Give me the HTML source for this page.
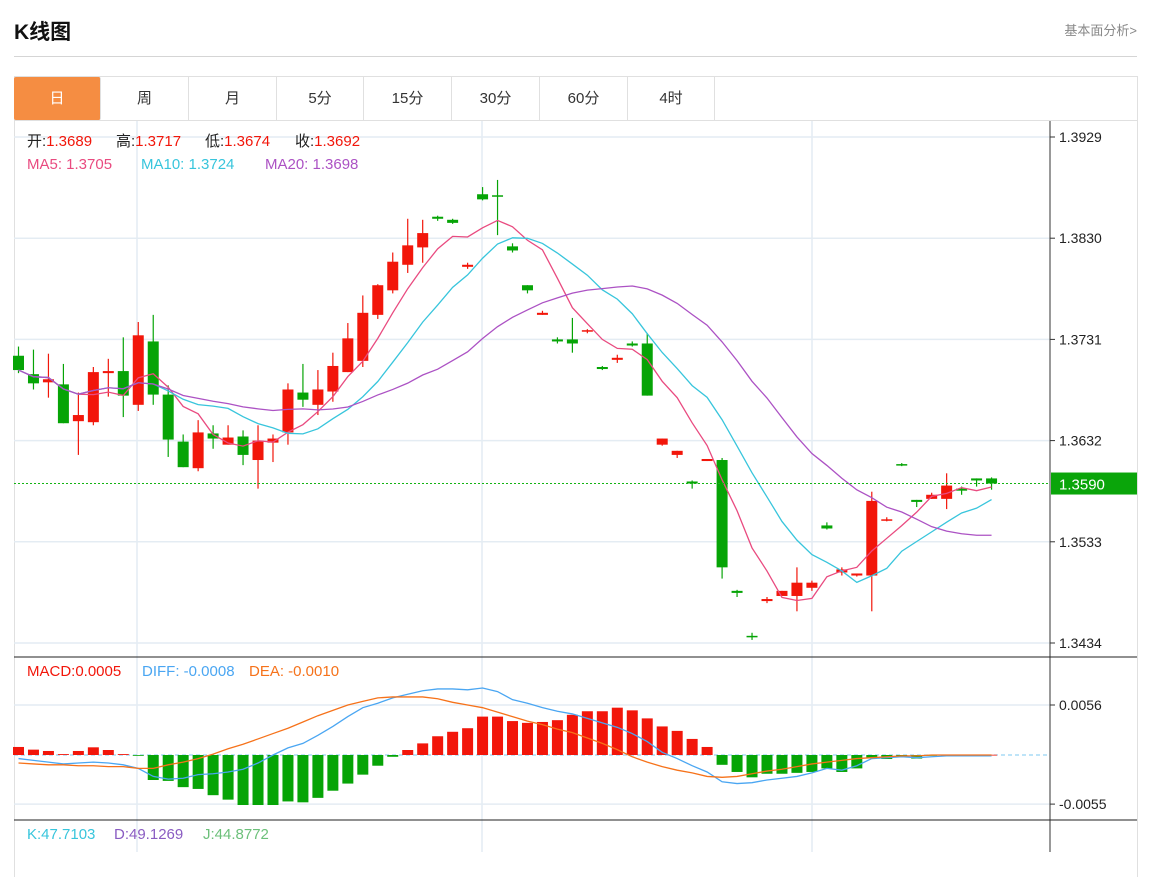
<!DOCTYPE html>
<html><head><meta charset="utf-8">
<style>
body{margin:0;background:#fff;width:1151px;height:852px;overflow:hidden;font-family:"Liberation Sans","Noto Sans CJK SC",sans-serif;position:relative}
.title{position:absolute;left:14px;top:16px;font-size:21px;font-weight:bold;color:#111}
.more{position:absolute;right:14px;top:20px;font-size:13px;color:#888}
.hr{position:absolute;left:14px;top:56px;width:1123px;height:1px;background:#d5d5d5}
.box{position:absolute;left:14px;top:76px;width:1122px;height:800px;border:1px solid #e0e0e0;border-bottom:none}
.tabs{position:absolute;left:14px;top:77px;height:43px;width:1123px;border-bottom:1px solid #e0e0e0}
.tab{position:absolute;top:0;height:43px;line-height:43px;text-align:center;font-size:15px;color:#333;border-right:1px solid #e0e0e0;box-sizing:border-box}
.tab.on{background:#f58d42;color:#fff;border-radius:2px}
svg{position:absolute;left:0;top:0}
</style></head><body>
<div class="title">K线图</div>
<div class="more">基本面分析&gt;</div>
<div class="hr"></div>
<div class="box"></div>
<div class="tabs">
<div class="tab on" style="left:0;width:87px">日</div>
<div class="tab" style="left:87px;width:88px">周</div>
<div class="tab" style="left:175px;width:88px">月</div>
<div class="tab" style="left:263px;width:87px">5分</div>
<div class="tab" style="left:350px;width:88px">15分</div>
<div class="tab" style="left:438px;width:88px">30分</div>
<div class="tab" style="left:526px;width:88px">60分</div>
<div class="tab" style="left:614px;width:87px">4时</div>
</div>
<svg id="chart" width="1151" height="852"></svg>
<script>
const opens=[1.3715,1.3697,1.3689,1.3687,1.3651,1.3650,1.3698,1.3700,1.3667,1.3729,1.3677,1.3631,1.3605,1.3639,1.3628,1.3636,1.3613,1.3630,1.3640,1.3679,1.3667,1.3680,1.3699,1.3710,1.3755,1.3779,1.3804,1.3821,1.3851,1.3848,1.3802,1.3873,1.3872,1.3822,1.3784,1.3755,1.3731,1.3731,1.3739,1.3704,1.3711,1.3727,1.3727,1.3628,1.3618,1.3592,1.3612,1.3613,1.3485,1.3441,1.3475,1.3480,1.3480,1.3488,1.3549,1.3503,1.3500,1.3500,1.3554,1.3609,1.3574,1.3575,1.3575,1.3585,1.3595,1.3595];
const highs=[1.3724,1.3721,1.3717,1.3707,1.3679,1.3704,1.3712,1.3733,1.3748,1.3755,1.3686,1.3638,1.3652,1.3647,1.3647,1.3642,1.3647,1.3638,1.3688,1.3707,1.3701,1.3718,1.3747,1.3774,1.3785,1.3816,1.3849,1.3848,1.3852,1.3849,1.3806,1.3880,1.3887,1.3825,1.3784,1.3759,1.3733,1.3752,1.3741,1.3705,1.3716,1.3729,1.3737,1.3634,1.3622,1.3593,1.3614,1.3615,1.3486,1.3444,1.3479,1.3485,1.3508,1.3495,1.3552,1.3508,1.3502,1.3582,1.3557,1.3610,1.3574,1.3581,1.3600,1.3587,1.3595,1.3596];
const lows=[1.3698,1.3682,1.3674,1.3649,1.3618,1.3647,1.3675,1.3655,1.3661,1.3667,1.3616,1.3606,1.3602,1.3624,1.3628,1.3608,1.3585,1.3611,1.3628,1.3665,1.3657,1.3670,1.3699,1.3704,1.3751,1.3776,1.3796,1.3806,1.3847,1.3844,1.3800,1.3867,1.3833,1.3816,1.3776,1.3755,1.3727,1.3718,1.3737,1.3701,1.3708,1.3724,1.3676,1.3627,1.3615,1.3585,1.3612,1.3497,1.3479,1.3437,1.3473,1.3480,1.3465,1.3485,1.3545,1.3500,1.3499,1.3465,1.3553,1.3607,1.3567,1.3575,1.3565,1.3579,1.3587,1.3584];
const closes=[1.3701,1.3688,1.3692,1.3649,1.3657,1.3699,1.3700,1.3676,1.3735,1.3677,1.3633,1.3606,1.3640,1.3634,1.3635,1.3618,1.3632,1.3634,1.3682,1.3672,1.3682,1.3705,1.3732,1.3757,1.3784,1.3807,1.3823,1.3835,1.3849,1.3845,1.3804,1.3868,1.3871,1.3818,1.3779,1.3757,1.3729,1.3727,1.3740,1.3702,1.3713,1.3725,1.3676,1.3634,1.3622,1.3590,1.3614,1.3508,1.3483,1.3440,1.3477,1.3485,1.3493,1.3493,1.3546,1.3506,1.3502,1.3573,1.3555,1.3608,1.3572,1.3579,1.3588,1.3583,1.3593,1.3590];
// MACD values in units of 0.0001
const macdHist=[9,6,4.5,1,4.5,8.6,5.6,1,-0.8,-28,-29,-36,-38,-45,-50,-56,-56,-56,-52,-53,-48,-40,-32,-22,-12,-2,5.6,13,21,26,30,43,43,38,36,37,39,45,49,49,53,50,41,32,27,18,9,-11,-19,-25,-21,-21,-20,-19,-15,-19,-15,-3.4,-4.5,-1.7,-4,-0.8,-0.3,0.3,-0.3,0.3];
const diffVals=[-4,-6,-8,-10,-9,-8,-9,-11,-15,-24,-27,-26,-22,-21,-19,-16,-9,0,8,13,22,32,43,53,58,64,68,72,74,74,73,75,71,62,58,53,49,46,41,36,31,24,15,3,-4,-12,-19,-30,-32,-31,-28,-26,-24,-20,-15,-17,-12,-4,-3,-2,-3,-2,-1,-1,-1,-1];
const deaVals=[-9,-10,-11,-11,-12,-12,-13,-13,-15,-15,-11,-8,-4,1,7,12,18,24,30,37,44,50,56,60,64,65,65,65,63,59,56,53,48,43,38,34,29,25,19,13,6,-2,-8,-13,-17,-20,-24,-25,-24,-21,-18,-16,-13,-10,-8,-6,-4,-3,-2,-1,-1,0,0,0,0,0];
const priceTicks=[1.3929,1.3830,1.3731,1.3632,1.3533,1.3434];
const macdTicks=[0.0056,-0.0055];
const lastPrice=1.3590;

const NS="http://www.w3.org/2000/svg";
const svg=document.getElementById('chart');
function mk(tag,attrs,parent){const e=document.createElementNS(NS,tag);for(const k in attrs)e.setAttribute(k,attrs[k]);(parent||svg).appendChild(e);return e;}
const X=i=>18.5+i*14.97;
const Y=v=>137+(1.3929-v)*10222;
const MY=v=>755-v*8929;
const RED="#f2160a",GRN="#06a406";

const grid=mk('g',{});


[137,482,812].forEach(x=>mk('line',{x1:x,x2:x,y1:121,y2:852,stroke:'#e4ecf3','stroke-width':1.5},grid));
priceTicks.forEach(t=>mk('line',{x1:14,x2:1050,y1:Y(t),y2:Y(t),stroke:'#e4ecf3','stroke-width':1.5},grid));
macdTicks.forEach(t=>mk('line',{x1:14,x2:1050,y1:MY(t),y2:MY(t),stroke:'#e4ecf3','stroke-width':1.5},grid));
mk('line',{x1:1050,x2:1050,y1:121,y2:852,stroke:'#333','stroke-width':1});
mk('line',{x1:14,x2:1137,y1:657,y2:657,stroke:'#222','stroke-width':1});
mk('line',{x1:14,x2:1137,y1:820,y2:820,stroke:'#222','stroke-width':1});
priceTicks.forEach(t=>{
  mk('line',{x1:1050,x2:1055,y1:Y(t),y2:Y(t),stroke:'#333'});
  const tx=mk('text',{x:1059,y:Y(t)+5,'font-size':14,fill:'#222'});tx.textContent=t.toFixed(4);
  
  
});
macdTicks.forEach(t=>{
  mk('line',{x1:1050,x2:1055,y1:MY(t),y2:MY(t),stroke:'#333'});
  const tx=mk('text',{x:1059,y:MY(t)+5,'font-size':14,fill:'#222'});tx.textContent=t.toFixed(4);
  
  
});

const cg=mk('g',{});


closes.forEach((c,i)=>{
  const o=opens[i],up=c>=o,col=up?RED:GRN,x=X(i);
  const g=mk('g',{},cg);
  
  
  mk('line',{x1:x,x2:x,y1:Y(highs[i]),y2:Y(lows[i]),stroke:col,'stroke-width':1.2},g);
  const top=Y(Math.max(o,c)),bot=Y(Math.min(o,c));
  mk('rect',{x:x-5.5,y:top,width:11,height:Math.max(1.5,bot-top),fill:col},g);
});
function ma(n){return closes.map((c,i)=>{const s=closes.slice(Math.max(0,i-n+1),i+1);return s.reduce((a,b)=>a+b,0)/s.length;});}
[[5,'#e94b80','ma5-line'],[10,'#38c5dc','ma10-line'],[20,'#ac52c4','ma20-line']].forEach(([n,col,name])=>{
  const p=mk('polyline',{points:ma(n).map((v,i)=>X(i)+','+Y(v)).join(' '),fill:'none',stroke:col,'stroke-width':1.3});
  
  
});
const lp=mk('line',{x1:14,x2:1050,y1:Y(lastPrice),y2:Y(lastPrice),stroke:'#13b413','stroke-dasharray':'2,2','stroke-width':1});


const lb=mk('rect',{x:1051,y:Y(lastPrice)-11,width:86,height:22,fill:'#0aa50a'});


const lt=mk('text',{x:1059,y:Y(lastPrice)+6,'font-size':15,fill:'#fff'});lt.textContent=lastPrice.toFixed(4);



const zl=mk('line',{x1:14,x2:1050,y1:755,y2:755,stroke:'#7cc8f0','stroke-dasharray':'4,3','stroke-width':1});


const hg=mk('g',{});


macdHist.forEach((h,i)=>{
  const v=h/10000,y0=MY(0),y1=MY(v);
  const r=mk('rect',{x:X(i)-5.5,y:Math.min(y0,y1),width:11,height:Math.max(0.8,Math.abs(y1-y0)),fill:h>=0?RED:GRN},hg);
  
  
});
[[diffVals,'#4aa6f2','diff-line'],[deaVals,'#f6721a','dea-line']].forEach(([arr,col,name])=>{
  const p=mk('polyline',{points:arr.map((v,i)=>X(i)+','+MY(v/10000)).join(' '),fill:'none',stroke:col,'stroke-width':1.3});
  
  
});

function legend(y,parts,name){
  const g=mk('g',{'font-size':15});
  
  
  parts.forEach(([x,segs])=>{
    const t=mk('text',{x:x,y:y},g);
    segs.forEach(([s,c])=>{const sp=mk('tspan',{fill:c},t);sp.textContent=s;});
  });
}
legend(146,[[27,[['开:','#222'],['1.3689',RED]]],[116,[['高:','#222'],['1.3717',RED]]],[205,[['低:','#222'],['1.3674',RED]]],[295,[['收:','#222'],['1.3692',RED]]]],'ohlc-legend');
legend(169,[[27,[['MA5:  1.3705','#e94b80']]],[141,[['MA10:  1.3724','#38c5dc']]],[265,[['MA20:  1.3698','#ac52c4']]]],'ma-legend');
legend(676,[[27,[['MACD:0.0005','#f2160a']]],[142,[['DIFF: -0.0008','#4aa6f2']]],[249,[['DEA: -0.0010','#f6721a']]]],'macd-legend');
legend(839,[[27,[['K:47.7103','#38c5dc']]],[114,[['D:49.1269','#8a5cc2']]],[203,[['J:44.8772','#6cc07a']]]],'kdj-legend');
</script>
</body></html>
